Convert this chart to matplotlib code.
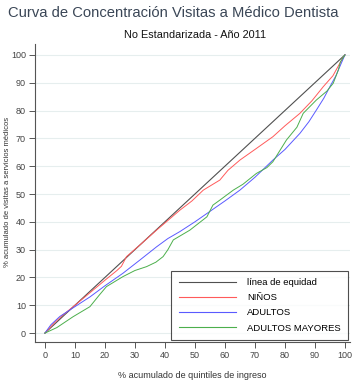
import matplotlib
matplotlib.use("Agg")
import matplotlib.pyplot as plt

plt.rcParams['font.family'] = ['Liberation Sans', 'DejaVu Sans']

# Concentration curves (cumulative % of income quintiles vs cumulative % of visits)
equidad_x = [0, 100]
equidad_y = [0, 100]

ninos_x = [0, 3, 6, 10, 15, 20, 24, 25.5, 27.2, 32, 37.2, 41, 45, 49, 52.8, 56, 58.3, 61, 65, 70, 76, 80, 85, 89, 92.8, 96, 98.3, 100]
ninos_y = [0, 3.5, 6.5, 10, 14.5, 19, 22.5, 24, 27.5, 32, 37, 40.5, 44.2, 47.5, 51.4, 53.5, 55, 58.5, 62.2, 66, 70.6, 74.5, 79, 83.5, 88.6, 92.5, 97, 100]

adultos_x = [0, 2, 5, 10, 15, 20, 26, 31.7, 37.2, 41, 45, 50, 54, 60, 65, 70, 76, 80, 85, 88, 90.5, 93, 95, 97, 98.3, 100]
adultos_y = [0, 3, 6, 9.5, 13, 17, 21.5, 26.3, 31, 34, 36.5, 40, 43, 47.5, 51.4, 56, 62.2, 66, 71.8, 76, 80.2, 84.5, 88.6, 92.5, 95.8, 100]

mayores_x = [0, 4, 9.4, 15, 18, 20.5, 26, 30, 33.9, 37, 39.4, 41, 42.8, 48.3, 54, 56, 58.3, 62.8, 66, 70.5, 74, 76, 80.5, 84, 86.1, 90.5, 94, 96.1, 97.8, 98.5, 100]
mayores_y = [0, 2, 5.9, 9.5, 13.5, 16.7, 20.3, 22.5, 23.9, 25.5, 27.5, 30, 33.5, 37, 41.8, 46, 47.8, 51.4, 53.5, 57.4, 59.5, 61.6, 69.4, 74, 79, 83.8, 87, 89.8, 94.6, 97.5, 100]

ticks = [0, 10, 20, 30, 40, 50, 60, 70, 80, 90, 100]


def main():
    fig = plt.figure(figsize=(3.52, 3.83), dpi=100)
    ax = fig.add_axes([0.0994, 0.107, 0.895, 0.778])

    ax.plot(equidad_x, equidad_y, color="#505050", lw=0.8, label="línea de equidad")
    ax.plot(ninos_x, ninos_y, color="#ff5a5a", lw=0.7, label="NIÑOS")
    ax.plot(adultos_x, adultos_y, color="#5a5aff", lw=0.7, label="ADULTOS")
    ax.plot(mayores_x, mayores_y, color="#4caf4c", lw=0.7, label="ADULTOS MAYORES")

    ax.set_xlim(-3.3, 101.7)
    ax.set_ylim(-3.2, 103.9)
    ax.set_xticks(ticks)
    ax.set_yticks(ticks)
    ax.tick_params(labelsize=6.5, labelcolor="#444444", length=4, width=0.7,
                   color="#555555", pad=2.5)

    for y in ticks:
        ax.axhline(y, color="#e6eeee", lw=0.8, zorder=0)

    ax.spines["top"].set_visible(False)
    ax.spines["right"].set_visible(False)
    ax.spines["left"].set_color("#555555")
    ax.spines["bottom"].set_color("#555555")

    ax.set_xlabel("% acumulado de quintiles de ingreso", fontsize=6.5, color="#333333", labelpad=8)
    fig.text(0.02, 0.5, "% acumulado de visitas a servicios médicos", fontsize=5.5,
             color="#333333", rotation=90, ha="center", va="center")

    leg = ax.legend(loc="lower right", fontsize=6.8, frameon=True, fancybox=False,
                    edgecolor="#222222", handlelength=6.0, handletextpad=1.2,
                    borderpad=0.8, labelspacing=0.65, borderaxespad=0.2,
                    bbox_to_anchor=(1.0, 0.0))
    leg.get_frame().set_linewidth(0.8)
    for line in leg.get_lines():
        line.set_linewidth(0.8)

    fig.text(0.023, 0.965, "Curva de Concentración Visitas a Médico Dentista",
             fontsize=10.6, color="#3a4656", ha="left", va="center")
    fig.text(0.555, 0.908, "No Estandarizada - Año 2011",
             fontsize=7.8, color="#111111", ha="center", va="center")

    fig.savefig("out.png", dpi=100)


if __name__ == "__main__":
    main()
